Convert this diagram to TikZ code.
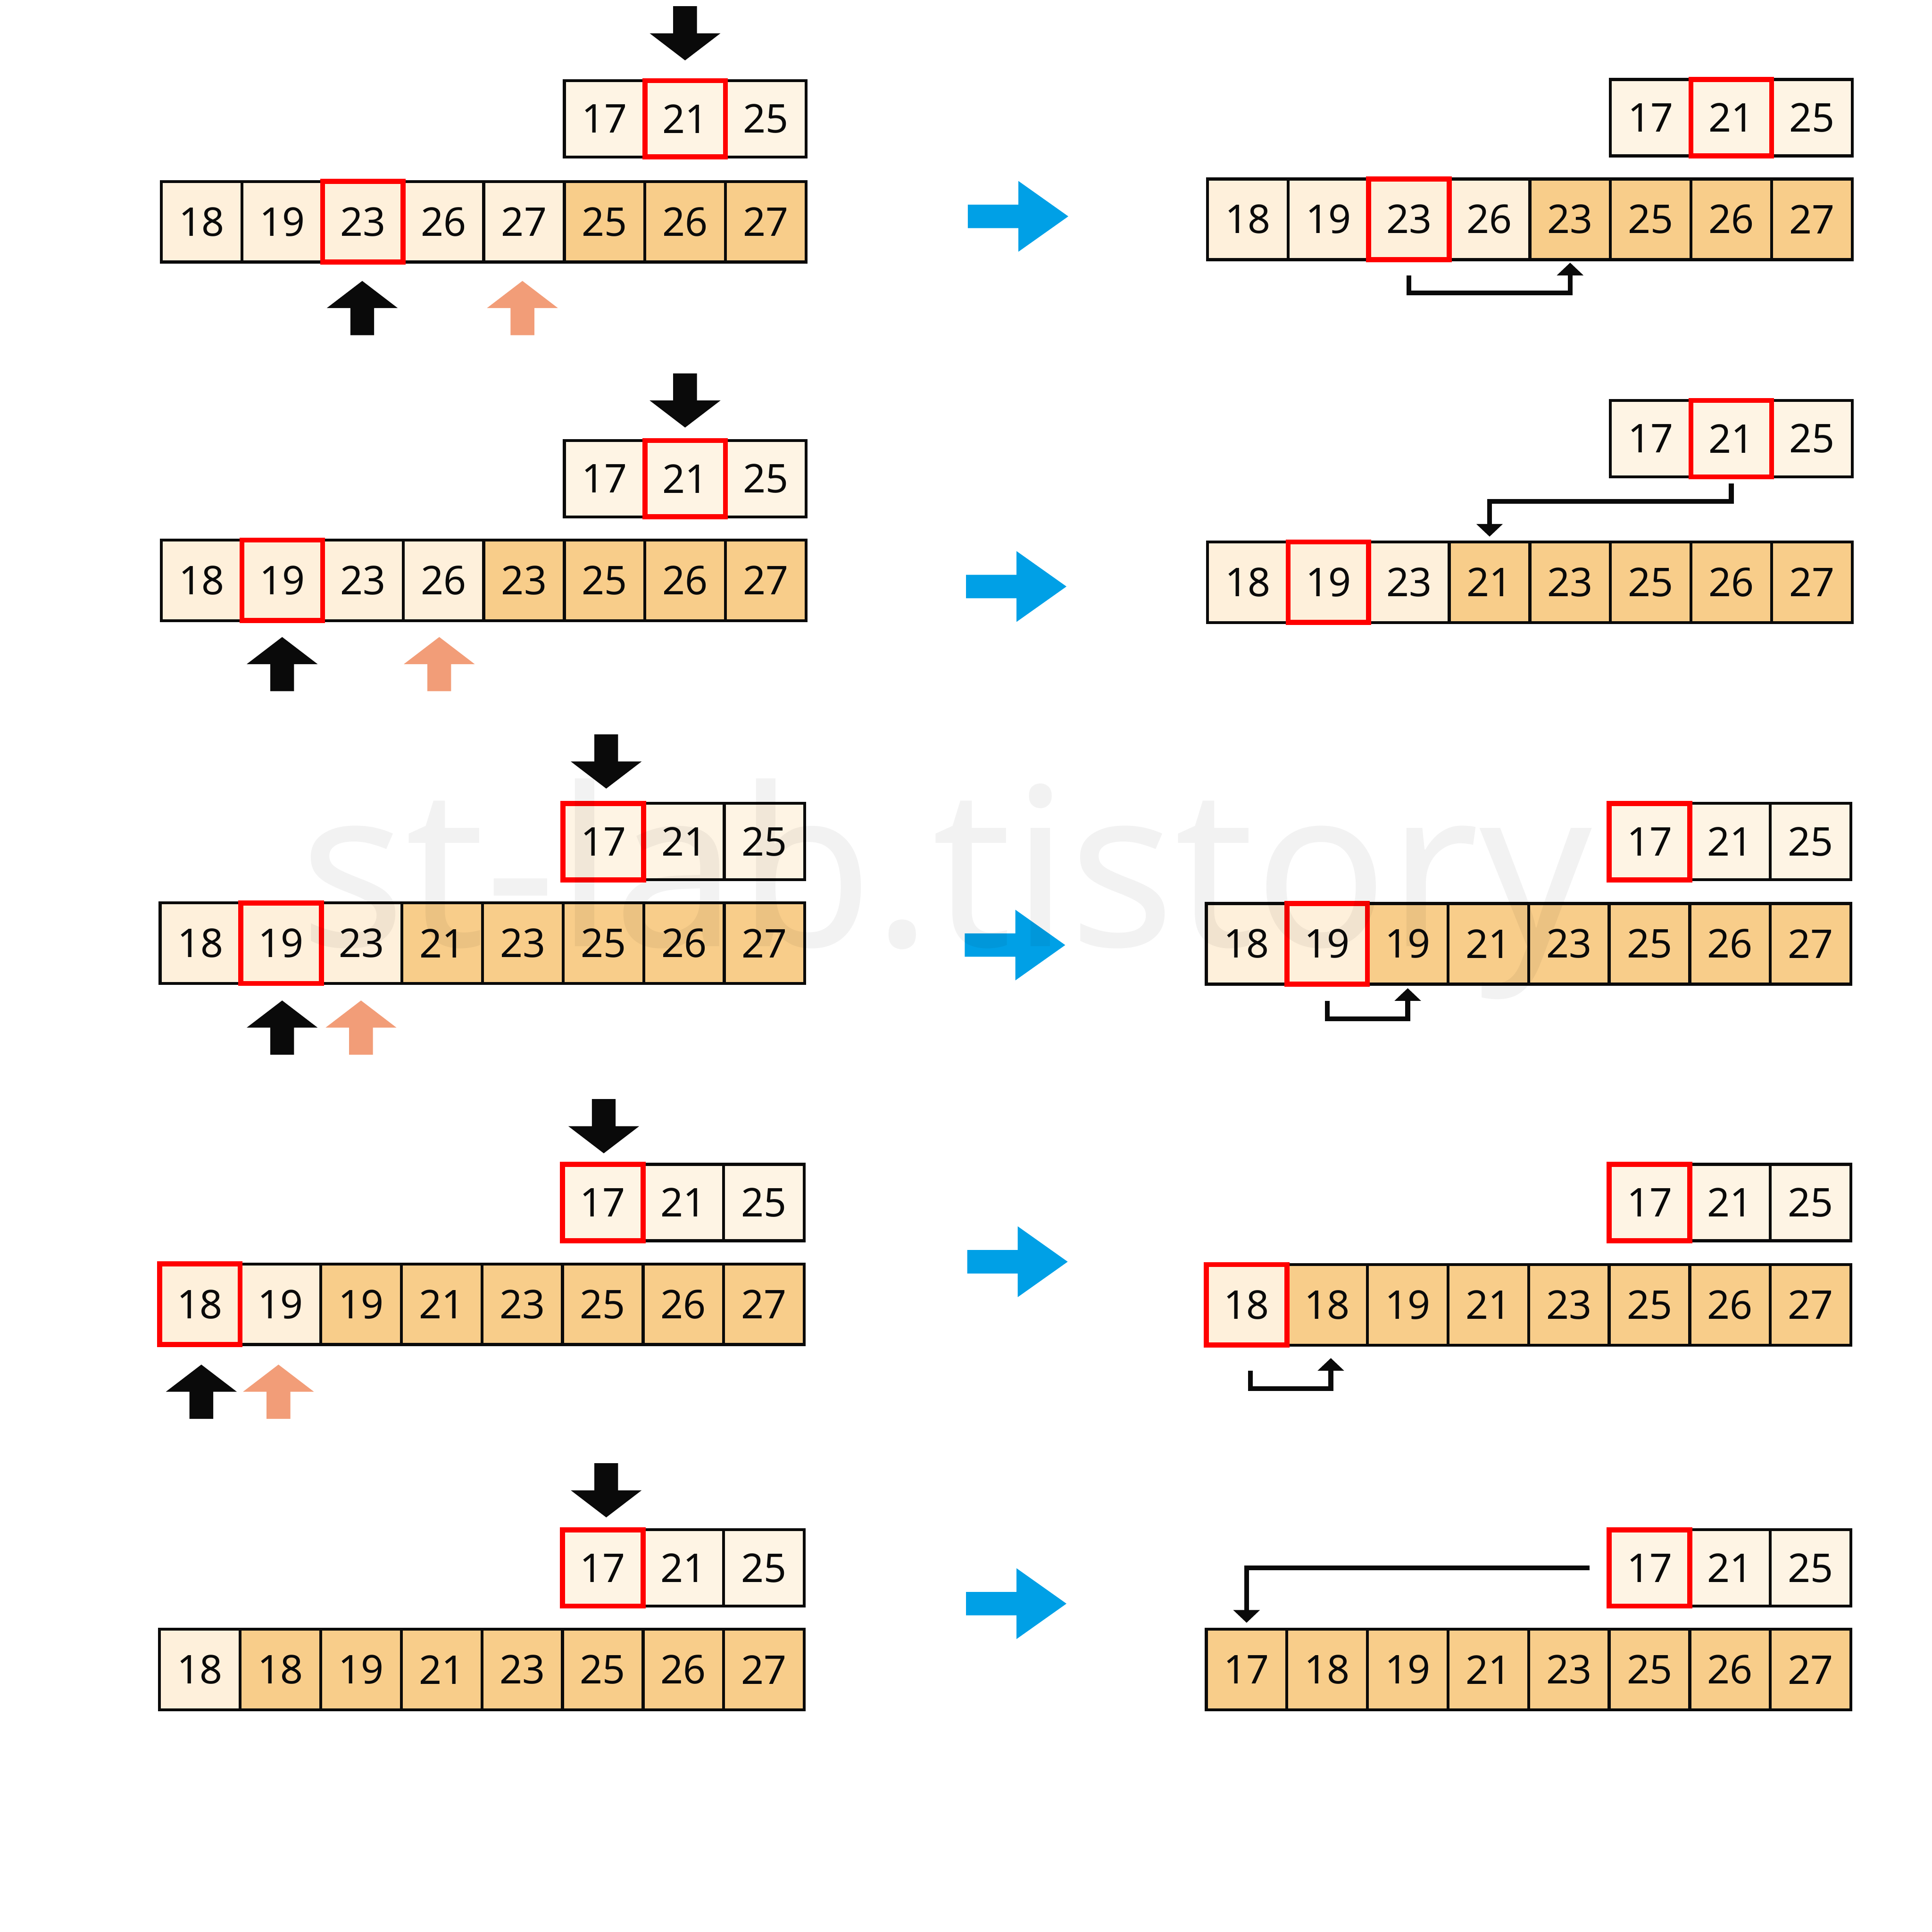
\documentclass[tikz,border=0pt]{standalone}
\usepackage{fontspec}
\usetikzlibrary{arrows.meta}
\newfontfamily\numfont{Noto Sans}
\definecolor{ink}{HTML}{0A0A0A}
\definecolor{cellLite}{HTML}{FEF0DB}
\definecolor{cellDark}{HTML}{F8CD8A}
\definecolor{cellSmall}{HTML}{FEF4E4}
\definecolor{ptrSalmon}{HTML}{F29D78}
\definecolor{nextBlue}{HTML}{00A0E6}
\definecolor{markRed}{HTML}{FF0000}

\tikzset{
  cell/.style={draw=ink, line width=0.048cm, minimum width=1.308cm, minimum height=1.308cm,
    inner sep=0pt, outer sep=0pt, text=ink, font=\numfont\fontsize{18.3}{22}\selectfont},
  smallcell/.style={cell, minimum height=1.24cm, fill=cellSmall},
  lite/.style={fill=cellLite},
  dark/.style={fill=cellDark},
  hilite/.style={draw=markRed, line width=0.082cm},
  move/.style={draw=ink, line width=0.078cm, -{Triangle[length=0.206cm,width=0.42cm]}},
  watermark/.style={text=black, text opacity=0.05, font=\numfont\fontsize{102}{110}\selectfont, inner sep=0pt},
  pics/uparrow/.style={code={
    \fill[pic actions] (-9.65,22) -- (-9.65,0) -- (-28.75,0) -- (0,-22) -- (28.75,0) -- (9.65,0) -- (9.65,22) -- cycle;}},
  pics/downarrow/.style={code={
    \fill[pic actions] (-9.65,-22) -- (-9.65,0) -- (-28.75,0) -- (0,22) -- (28.75,0) -- (9.65,0) -- (9.65,-22) -- cycle;}},
  pics/nextarrow/.style={code={
    \fill[pic actions] (-41,-9.5) -- (0,-9.5) -- (0,-28.7) -- (40.5,0) -- (0,28.7) -- (0,9.5) -- (-41,9.5) -- cycle;}},
}

\begin{document}
\begin{tikzpicture}[x=0.02cm, y=-0.02cm]
    \useasboundingbox (0,0) rectangle (1568,1568);

    % Row 1
    \foreach \n/\f [count=\i] in {18/lite,19/lite,23/lite,26/lite,27/lite,25/dark,26/dark,27/dark}
        \node[cell,\f] (L1m\i) at ({98.3+65.4*\i},180) {\n};
    \foreach \n [count=\i] in {17,21,25}
        \node[smallcell] (L1s\i) at ({425.3+65.4*\i},96.4) {\n};
    \draw[hilite] (L1s2.south west) rectangle (L1s2.north east);
    \draw[hilite] (L1m3.south west) rectangle (L1m3.north east);
    \pic[fill=ink] at (556,27) {downarrow};
    \pic[fill=ink] at (294,250) {uparrow};
    \pic[fill=ptrSalmon] at (424,250) {uparrow};

    \pic[fill=nextBlue] at (826.5,175.6) {nextarrow};

    \foreach \n/\f [count=\i] in {18/lite,19/lite,23/lite,26/lite,23/dark,25/dark,26/dark,27/dark}
        \node[cell,\f] (R1m\i) at ({947.3+65.4*\i},178) {\n};
    \foreach \n [count=\i] in {17,21,25}
        \node[smallcell] (R1s\i) at ({1274.3+65.4*\i},95.5) {\n};
    \draw[hilite] (R1s2.south west) rectangle (R1s2.north east);
    \draw[hilite] (R1m3.south west) rectangle (R1m3.north east);
    \draw[move] ([yshift=-0.254cm]R1m3.south) -- ++(0,14.4) -| ([yshift=-0.05cm]R1m5.south);

    % Row 2
    \foreach \n/\f [count=\i] in {18/lite,19/lite,23/lite,26/lite,23/dark,25/dark,26/dark,27/dark}
        \node[cell,\f] (L2m\i) at ({98.3+65.4*\i},471) {\n};
    \foreach \n [count=\i] in {17,21,25}
        \node[smallcell] (L2s\i) at ({425.3+65.4*\i},388.5) {\n};
    \draw[hilite] (L2s2.south west) rectangle (L2s2.north east);
    \draw[hilite] (L2m2.south west) rectangle (L2m2.north east);
    \pic[fill=ink] at (556,325) {downarrow};
    \pic[fill=ink] at (229,539) {uparrow};
    \pic[fill=ptrSalmon] at (356.5,539) {uparrow};

    \pic[fill=nextBlue] at (825,476) {nextarrow};

    \foreach \n/\f [count=\i] in {18/lite,19/lite,23/lite,21/dark,23/dark,25/dark,26/dark,27/dark}
        \node[cell,\f] (R2m\i) at ({947.3+65.4*\i},472.5) {\n};
    \foreach \n [count=\i] in {17,21,25}
        \node[smallcell] (R2s\i) at ({1274.3+65.4*\i},356) {\n};
    \draw[hilite] (R2s2.south west) rectangle (R2s2.north east);
    \draw[hilite] (R2m2.south west) rectangle (R2m2.north east);
    \draw[move] ([yshift=-0.108cm]R2s2.south) -- ++(0,14.6) -| ([yshift=0.086cm]R2m4.north);

    % Row 3
    \foreach \n/\f [count=\i] in {18/lite,19/lite,23/lite,21/dark,23/dark,25/dark,26/dark,27/dark}
        \node[cell,\f] (L3m\i) at ({97.3+65.4*\i},765.5) {\n};
    \foreach \n [count=\i] in {17,21,25}
        \node[smallcell] (L3s\i) at ({424.3+65.4*\i},683) {\n};
    \draw[hilite] (L3s1.south west) rectangle (L3s1.north east);
    \draw[hilite] (L3m2.south west) rectangle (L3m2.north east);
    \pic[fill=ink] at (492,618) {downarrow};
    \pic[fill=ink] at (229,834) {uparrow};
    \pic[fill=ptrSalmon] at (293,834) {uparrow};

    \pic[fill=nextBlue] at (824,767) {nextarrow};

    \foreach \n/\f [count=\i] in {18/lite,19/lite,19/dark,21/dark,23/dark,25/dark,26/dark,27/dark}
        \node[cell,\f] (R3m\i) at ({946.3+65.4*\i},766) {\n};
    \foreach \n [count=\i] in {17,21,25}
        \node[smallcell] (R3s\i) at ({1273.3+65.4*\i},683) {\n};
    \draw[hilite] (R3s1.south west) rectangle (R3s1.north east);
    \draw[hilite] (R3m2.south west) rectangle (R3m2.north east);
    \draw[move] ([yshift=-0.274cm]R3m2.south) -- ++(0,14.4) -| ([yshift=-0.066cm]R3m3.south);

    % Row 4
    \foreach \n/\f [count=\i] in {18/lite,19/lite,19/dark,21/dark,23/dark,25/dark,26/dark,27/dark}
        \node[cell,\f] (L4m\i) at ({96.8+65.4*\i},1058.5) {\n};
    \foreach \n [count=\i] in {17,21,25}
        \node[smallcell] (L4s\i) at ({423.8+65.4*\i},976) {\n};
    \draw[hilite] (L4s1.south west) rectangle (L4s1.north east);
    \draw[hilite] (L4m1.south west) rectangle (L4m1.north east);
    \pic[fill=ink] at (490,914) {downarrow};
    \pic[fill=ink] at (163.4,1129.5) {uparrow};
    \pic[fill=ptrSalmon] at (226,1129.5) {uparrow};

    \pic[fill=nextBlue] at (826,1024) {nextarrow};

    \foreach \n/\f [count=\i] in {18/lite,18/dark,19/dark,21/dark,23/dark,25/dark,26/dark,27/dark}
        \node[cell,\f] (R4m\i) at ({946.3+65.4*\i},1059) {\n};
    \foreach \n [count=\i] in {17,21,25}
        \node[smallcell] (R4s\i) at ({1273.3+65.4*\i},976) {\n};
    \draw[hilite] (R4s1.south west) rectangle (R4s1.north east);
    \draw[hilite] (R4m1.south west) rectangle (R4m1.north east);
    \draw[move] ([xshift=0.06cm,yshift=-0.416cm]R4m1.south) -- ++(0,14.5) -| ([xshift=0.06cm,yshift=-0.21cm]R4m2.south);

    % Row 5
    \foreach \n/\f [count=\i] in {18/lite,18/dark,19/dark,21/dark,23/dark,25/dark,26/dark,27/dark}
        \node[cell,\f] (L5m\i) at ({96.8+65.4*\i},1355) {\n};
    \foreach \n [count=\i] in {17,21,25}
        \node[smallcell] (L5s\i) at ({423.8+65.4*\i},1272.5) {\n};
    \draw[hilite] (L5s1.south west) rectangle (L5s1.north east);
    \pic[fill=ink] at (492,1209.5) {downarrow};

    \pic[fill=nextBlue] at (825,1301.5) {nextarrow};

    \foreach \n [count=\i] in {17,18,19,21,23,25,26,27}
        \node[cell,dark] (R5m\i) at ({946.3+65.4*\i},1355) {\n};
    \foreach \n [count=\i] in {17,21,25}
        \node[smallcell] (R5s\i) at ({1273.3+65.4*\i},1272.5) {\n};
    \draw[hilite] (R5s1.south west) rectangle (R5s1.north east);
    \draw[move] ([xshift=-0.316cm]R5s1.west) -| ([yshift=0.106cm]R5m1.north);

    % Watermark
    \node[watermark, anchor=base west] (wm) at (243,768) {st-lab.tistory};
\end{tikzpicture}
\end{document}
